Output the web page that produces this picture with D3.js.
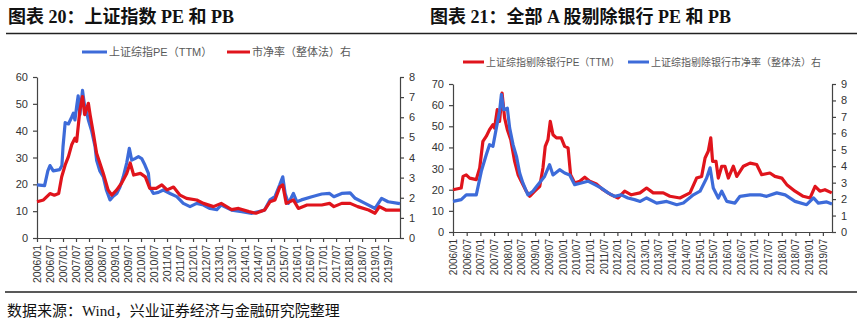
<!DOCTYPE html>
<html><head><meta charset="utf-8">
<script src="https://cdn.jsdelivr.net/npm/d3@7"></script>
<style>
html,body{margin:0;padding:0;background:#fff;}
svg{display:block;}
</style></head>
<body>
<svg id="c" width="866" height="324"></svg>
<script>
// ---- tick labels (every 6 months from 2006/01) ----
const tickLabels = ["2006/01","2006/07","2007/01","2007/07","2008/01","2008/07","2009/01","2009/07","2010/01","2010/07","2011/01","2011/07","2012/01","2012/07","2013/01","2013/07","2014/01","2014/07","2015/01","2015/07","2016/01","2016/07","2017/01","2017/07","2018/01","2018/07","2019/01","2019/07"];

// ---- Chart 20: 上证指数 PE (left axis) & PB (right axis); x = months since 2006/01 ----
const shPEMonths = [0,3.5,5,6,7.5,10.5,11.5,12,13,14.5,16,16.8,17.5,18.3,19,19.8,21,22,23,23.7,25.2,26.8,27.5,29,30.6,32,33.7,35.2,36.8,38.3,39.8,41.4,42.6,43.7,45.2,46.8,48.3,49.8,51.4,52,53.7,56,58.3,61.4,64.5,67.5,70.6,73.7,76.8,79.8,83,85,89.8,94.5,99.2,102,105,107.5,109.8,112,113.4,114.5,116,118.3,119.9,122,126.8,131.4,135,137,140.6,144.5,146.8,151.4,156,159,162,166.7,167.5];
const shPEValues = [19.8,19.5,25,27,25,25.5,27,34,43,42.5,45,46.5,44,49,53,46,55,49,46.5,44,40,34,29,25,22.8,17.9,14.2,15.6,16.6,19,22.8,28,33.4,29,29.6,30.3,29.6,27.2,24.1,19,16.6,17,17.9,16.6,15.4,12.9,11.7,12.9,12.3,11,10.6,12.3,10.4,9.8,9.2,9.8,10.4,14.2,15.4,19.8,22.8,16.6,12.9,16.6,13.5,14.2,15.4,16.4,16.6,15.4,16.6,16.8,14.8,12.9,11,14.8,13.5,12.9,12.8];
const shPBMonths = [0,3,6,8,10,11.4,13,14.5,16,17.5,18.3,19.8,21,22,23.7,24.5,26,27.5,29,30.6,32.8,34.5,36.8,39,41.4,43,44.6,47.7,50,52,55,57.6,60,63,66,69,73.7,76.8,81.4,85,89.8,93,97.8,101,105,107.5,109.8,112,113.4,115,118.3,120.6,124.6,131.4,135,137,140.6,144.5,148,153,156,158,161,167.5];
const shPBValues = [1.80,1.89,2.21,2.13,2.21,3.04,3.63,4.04,4.63,4.96,4.80,6.36,7.03,6.13,6.69,6.13,5.20,4.21,3.73,3.21,2.39,2.13,2.39,2.72,3.21,3.73,3.13,3.21,3.04,2.47,2.47,2.64,2.39,2.53,2.13,1.97,1.89,1.72,1.56,1.72,1.41,1.47,1.31,1.23,1.39,1.80,1.89,2.53,2.64,1.72,1.89,1.47,1.64,1.64,1.72,1.56,1.72,1.72,1.56,1.39,1.23,1.56,1.39,1.39];

// ---- Chart 21: 全部A股剔除银行 PE (left axis) & PB (right axis) ----
const exPEMonths = [0,3.6,4.4,5.8,7.3,10.2,11.7,13.1,14.6,16,17.5,18.2,19.4,20.4,21.5,22.6,23.8,25.3,27,28.5,29.9,32.1,33.6,35.8,38,39.4,40.4,41.6,42.6,43.8,45.3,47.4,48.9,50.4,51.5,53.3,55.5,57.7,59.9,62.8,65.7,69.3,72.3,75.2,78.1,81.9,84.8,87.7,92.1,95,99.4,103.8,106.7,108.9,110.4,111.8,112.9,113.7,115.2,116.2,117.7,119.1,120.6,122.8,124.3,127.2,130.1,133,135.2,138.8,141,144,146.2,149.8,153.4,156.4,158.6,160.7,162.9,165.9];
const exPEValues = [20,20.8,26.3,27,25.5,24.8,30.3,42.9,45.3,48.4,50.8,49.2,57.9,52.3,65.7,54,48.4,43.7,33.4,27.1,24,19.3,16.9,19.3,21.6,30.3,40.5,43.7,52.3,46,44.5,44.5,40.5,39.8,27.1,23.2,24,25.9,24,22.7,20,17.6,16.1,19.3,17.6,18.5,20.8,18.5,18.5,16.9,16.1,18.5,25.5,26.3,35,38.2,44.5,33.4,33.4,25.5,31.1,31.1,25.5,31.1,26.3,31.1,32.6,31.9,27.1,27.9,26.3,25.5,22.4,19.3,16.9,16.1,21.6,19.3,20,18.5];
const exPBMonths = [0,3.6,5.8,10.2,12.4,14.6,16,17.5,19,20.4,21.2,22.2,23.8,24.8,26.3,27.8,29.2,30.6,32.8,35,37.2,40.1,42.3,43.8,46.7,48.9,51.1,53.3,56.2,59.1,62.1,65,67.9,70.8,73.7,76.6,79.5,82,84.8,89.2,93.6,98,100.9,105.3,108.2,111.1,112.6,114,116.2,117.7,119.9,123.5,125.7,130.1,134.5,137.4,141.8,145.5,149.8,154.9,157.9,160,163.7,166];
const exPBValues = [1.86,1.97,2.26,2.26,3.69,4.71,5.31,5.21,6.33,7.34,8.36,7.44,7.53,6.33,5.31,4.6,3.59,2.98,2.26,2.48,2.88,3.38,4.09,3.47,3.79,3.59,3.47,2.88,2.98,3.09,2.88,2.67,2.38,2.17,2.26,2.07,1.97,1.86,2.07,1.76,1.86,1.66,1.76,2.26,2.48,3.28,3.9,2.67,2.07,2.48,1.86,1.76,2.17,2.26,2.26,2.17,2.38,2.26,1.86,1.66,2.07,1.76,1.83,1.71];

const BLUE = "#3d6bd9", RED = "#e0141c";
const svg = d3.select("#c");
const AXF = "'Liberation Sans','Noto Sans CJK SC',sans-serif";
const TITLEF = "'Liberation Serif','Noto Sans CJK SC',serif";

// titles and rules
svg.append("text").attr("x",8).attr("y",23)
  .style("font-family",TITLEF).style("font-weight","bold").style("font-size","18px").attr("fill","#111")
  .text("图表 20：上证指数 PE 和 PB");
svg.append("text").attr("x",430).attr("y",23)
  .style("font-family",TITLEF).style("font-weight","bold").style("font-size","18px").attr("fill","#111")
  .text("图表 21：全部 A 股剔除银行 PE 和 PB");
svg.append("line").attr("x1",6).attr("x2",857).attr("y1",33.5).attr("y2",33.5).attr("stroke","#222").attr("stroke-width",1.3);
svg.append("line").attr("x1",5).attr("x2",857).attr("y1",292).attr("y2",292).attr("stroke","#222").attr("stroke-width",1.3);
svg.append("text").attr("x",7).attr("y",316)
  .style("font-family",TITLEF).style("font-size","15px").attr("fill","#111")
  .text("数据来源：Wind，兴业证券经济与金融研究院整理");

function drawChart(cfg){
  const g = svg.append("g");
  const x = d3.scaleLinear().domain([0, cfg.xMax]).range([cfg.x0, cfg.x1]);
  const yL = d3.scaleLinear().domain([0, cfg.yLMax]).range([cfg.yBottom, cfg.yTop]);
  const yR = d3.scaleLinear().domain([0, cfg.yRMax]).range([cfg.yBottom, cfg.yTop]);

  const xAxis = d3.axisBottom(x).tickValues(d3.range(0, tickLabels.length*6, 6))
    .tickFormat(d => tickLabels[d/6]).tickSize(4).tickSizeOuter(0);
  const gx = g.append("g").attr("transform",`translate(0,${cfg.yBottom})`).call(xAxis);
  gx.selectAll("text").attr("transform","rotate(-90)").attr("text-anchor","end")
    .attr("x",-7).attr("y",0).attr("dy","0.35em")
    .style("font-family",AXF).style("font-size",cfg.xFont+"px").attr("fill","#333");

  const gl = g.append("g").attr("transform",`translate(${cfg.x0},0)`)
    .call(d3.axisLeft(yL).ticks(cfg.yLMax/10).tickSize(4).tickSizeOuter(0).tickPadding(5));
  gl.selectAll("text").style("font-family",AXF).style("font-size","11px").attr("fill","#333");
  const gr = g.append("g").attr("transform",`translate(${cfg.x1},0)`)
    .call(d3.axisRight(yR).ticks(cfg.yRMax).tickSize(4).tickSizeOuter(0).tickPadding(5));
  gr.selectAll("text").style("font-family",AXF).style("font-size","11px").attr("fill","#333");
  g.selectAll(".domain, .tick line").attr("stroke","#444").attr("stroke-width",1.2);

  cfg.series.forEach(s => {
    const y = s.axis === "L" ? yL : yR;
    const pts = s.months.map((m,i) => [m, s.values[i]]);
    g.append("path").datum(pts)
      .attr("d", d3.line().x(d => x(d[0])).y(d => y(d[1])))
      .attr("fill","none").attr("stroke",s.color).attr("stroke-width",3.2)
      .attr("stroke-linejoin","round");
  });

  // legend
  cfg.legend.forEach(l => {
    g.append("line").attr("x1",l.x).attr("x2",l.x+l.w).attr("y1",cfg.legY).attr("y2",cfg.legY)
      .attr("stroke",l.color).attr("stroke-width",3);
    g.append("text").attr("x",l.x+l.w+2).attr("y",cfg.legY).attr("dy","0.35em")
      .style("font-family",AXF).style("font-size",cfg.legFont+"px").attr("fill","#595959").text(l.label);
  });
}

drawChart({
  x0:37, x1:400, xMax:167.5, yTop:77, yBottom:238, yLMax:60, yRMax:8, xFont:10.5,
  legY:52, legFont:11,
  series:[
    {months:shPEMonths, values:shPEValues, axis:"L", color:BLUE},
    {months:shPBMonths, values:shPBValues, axis:"R", color:RED}
  ],
  legend:[
    {x:82, w:25, color:BLUE, label:"上证综指PE（TTM）"},
    {x:227, w:23, color:RED, label:"市净率（整体法）右"}
  ]
});

drawChart({
  x0:453, x1:832, xMax:166, yTop:84, yBottom:232, yLMax:70, yRMax:9, xFont:10,
  legY:62, legFont:10,
  series:[
    {months:exPEMonths, values:exPEValues, axis:"L", color:RED},
    {months:exPBMonths, values:exPBValues, axis:"R", color:BLUE}
  ],
  legend:[
    {x:463, w:21, color:RED, label:"上证综指剔除银行PE（TTM）"},
    {x:628, w:21, color:BLUE, label:"上证综指剔除银行市净率（整体法）右"}
  ]
});
</script>
</body></html>
